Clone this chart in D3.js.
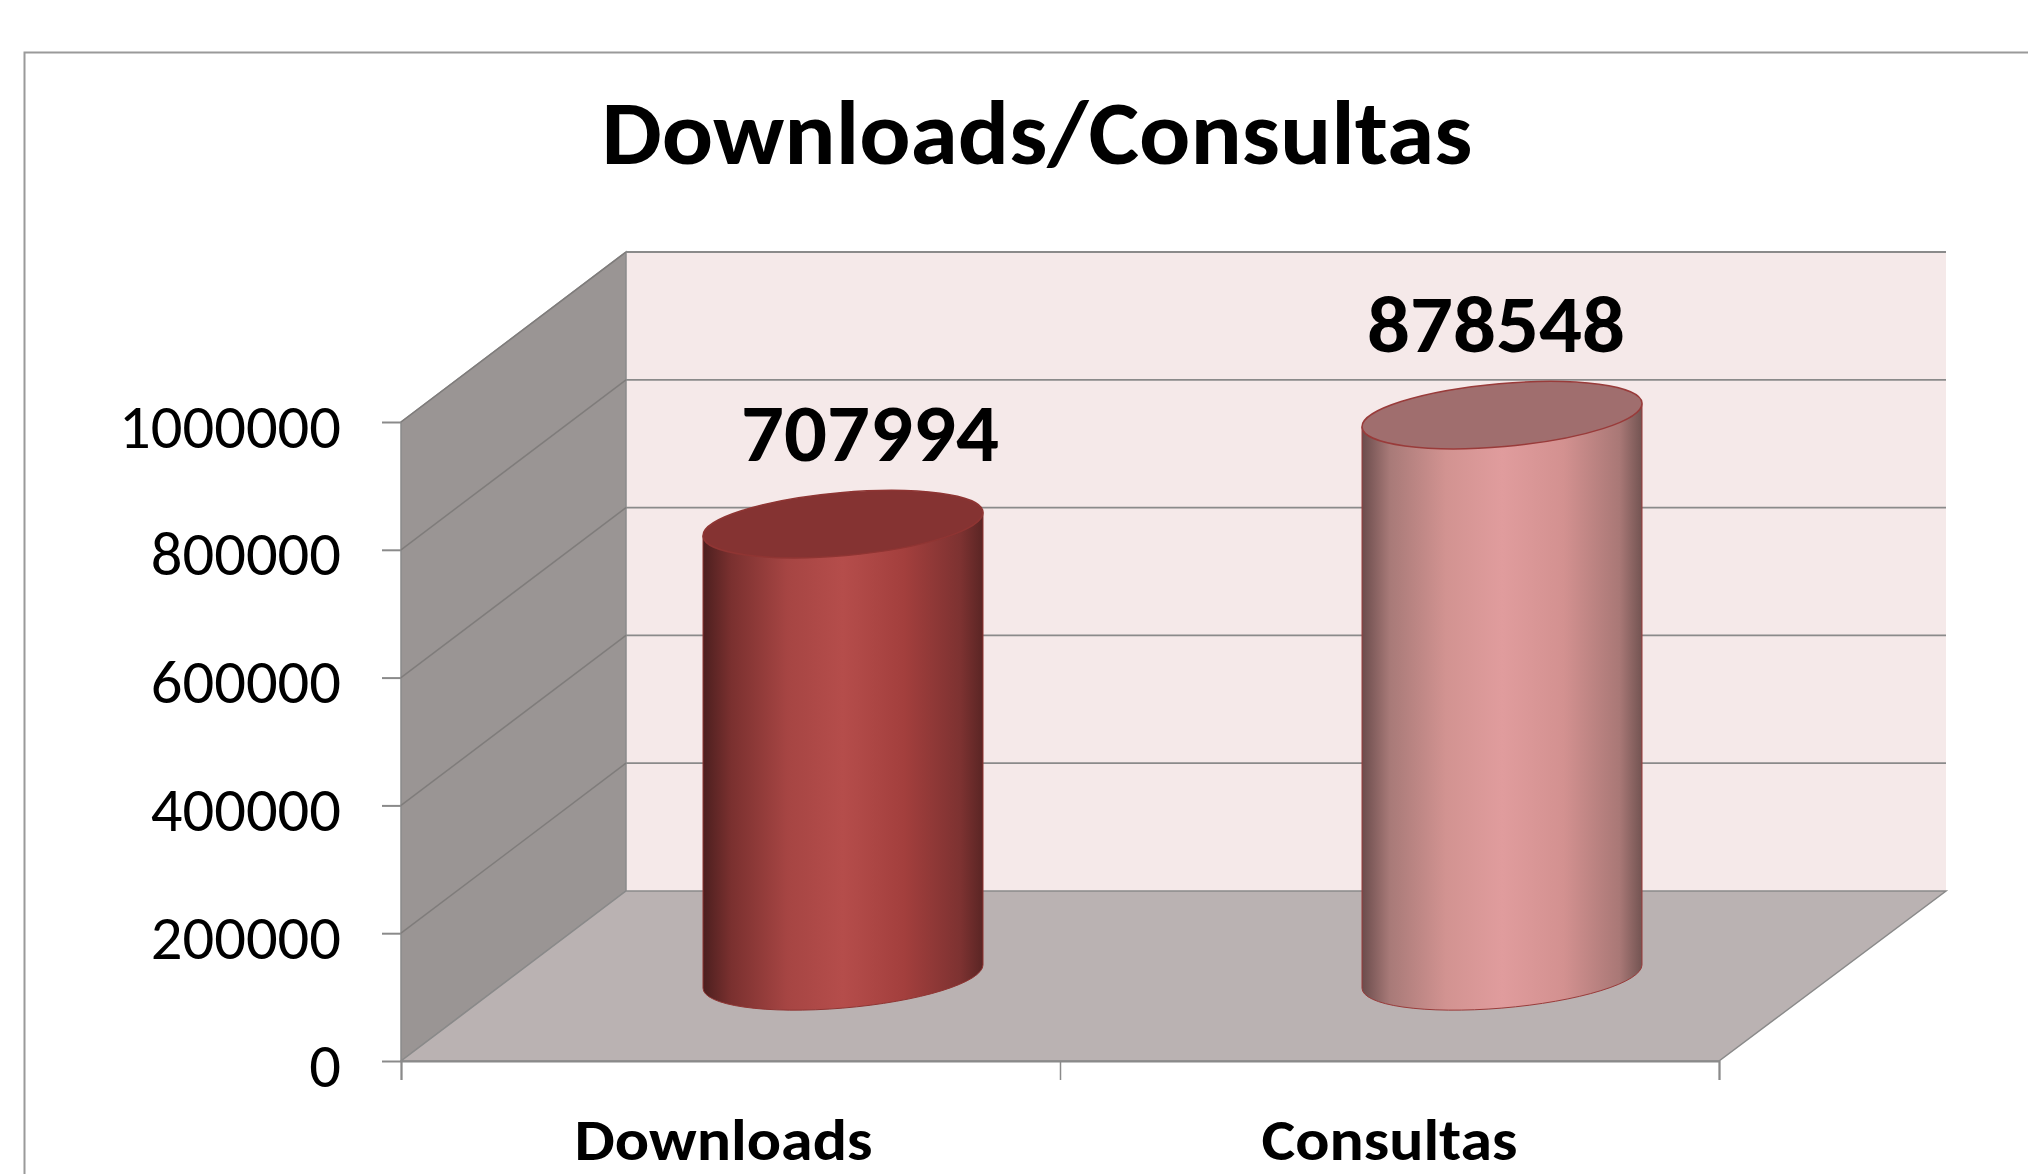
<!DOCTYPE html>
<html>
<head>
<meta charset="utf-8">
<script src="https://cdn.jsdelivr.net/npm/d3@7"></script>
<style>
  html, body { margin: 0; padding: 0; background: #fff; overflow: hidden; }
  text { font-family: Carlito, Calibri, Lato, sans-serif; fill: #000; }
</style>
</head>
<body>
<div id="chart"></div>
<script>
var chartTitle = "Downloads/Consultas";
var categories = ["Downloads", "Consultas"];
var values = [707994, 878548];
var yTicks = [0, 200000, 400000, 600000, 800000, 1000000];
var topColors = ["#853332", "#a06e6e"];
var rimColors = ["#8f3533", "#993b3a"];
var sideStops = [
  ["#4c1f1f", "#7a302f", "#a64543", "#b54d4b", "#a33f3d", "#7d3231", "#5a2524"],
  ["#6b4c4c", "#a87a78", "#d29391", "#e09c9d", "#d39190", "#a97876", "#735452"]
];
var offsets = [0, 0.1, 0.3, 0.5, 0.72, 0.92, 1];

function init(){
  var w = 2028, h = 1174;

  var svg = d3.select("#chart").append("svg")
    .attr("width", w)
    .attr("height", h);

  // outer frame, its right and bottom edges run off the page
  svg.append("rect")
    .attr("x", 24.5).attr("y", 52.5)
    .attr("width", w).attr("height", h)
    .attr("fill", "#fff").attr("stroke", "#9a9a9a").attr("stroke-width", 2);

  svg.append("text")
    .attr("x", 1037).attr("y", 164)
    .attr("text-anchor", "middle")
    .attr("font-size", 92).attr("font-weight", 700)
    .attr("textLength", 871).attr("lengthAdjust", "spacingAndGlyphs")
    .text(chartTitle);

  // front plane of the 3d box
  var left = 401, right = 1719, bottom = 1061, top = 422;
  // how far the back plane sits from the front one
  var depthX = 225, depthY = -170;

  var y = d3.scaleLinear().domain([0, 1000000]).range([bottom, top]);
  var x = d3.scaleBand().domain(categories).range([left, right]);
  var xEdge = d3.scaleLinear().domain([0, 2]).range([left, right]);

  var line = "#8a8a8a";
  var pts = function(a){ return a.map(function(p){ return p.join(","); }).join(" "); };

  // back wall
  svg.append("polygon")
    .attr("points", pts([[left+depthX, y(1000000)+depthY], [right+depthX+2, y(1000000)+depthY],
                         [right+depthX+2, bottom+depthY], [left+depthX, bottom+depthY]]))
    .attr("fill", "#f5e9e9");

  // side wall
  svg.append("polygon")
    .attr("points", pts([[left, y(1000000)], [left+depthX, y(1000000)+depthY],
                         [left+depthX, bottom+depthY], [left, bottom]]))
    .attr("fill", "#9a9594").attr("stroke", line).attr("stroke-width", 1.5);

  // floor
  svg.append("polygon")
    .attr("points", pts([[left, bottom], [left+depthX, bottom+depthY],
                         [right+depthX+2, bottom+depthY], [right, bottom]]))
    .attr("fill", "#bab2b2").attr("stroke", line).attr("stroke-width", 1.5);

  // gridlines, on the side wall then across the back
  var grid = svg.append("g").attr("fill", "none");
  grid.selectAll(".side").data(yTicks.slice(1)).enter().append("line")
    .attr("x1", left).attr("y1", function(d){ return y(d); })
    .attr("x2", left+depthX).attr("y2", function(d){ return y(d)+depthY; })
    .attr("stroke", "#7f7c7b").attr("stroke-width", 1.5);
  grid.selectAll(".back").data(yTicks.slice(1)).enter().append("line")
    .attr("x1", left+depthX).attr("y1", function(d){ return y(d)+depthY; })
    .attr("x2", right+depthX+2).attr("y2", function(d){ return y(d)+depthY; })
    .attr("stroke", line).attr("stroke-width", 1.8);

  // axes
  var yAxis = svg.append("g")
    .attr("transform", "translate(" + left + ",0)")
    .call(d3.axisLeft(y).tickValues(yTicks).tickSize(19).tickPadding(41).tickFormat(d3.format("d")));
  yAxis.select(".domain").remove();
  yAxis.selectAll("line").attr("stroke", line).attr("stroke-width", 2);
  yAxis.selectAll("text").attr("font-size", 61).attr("font-family", null)
    .attr("dy", "0.41em")
    .attr("textLength", function(d){ return String(d).length * 31.7; })
    .attr("lengthAdjust", "spacingAndGlyphs");

  var xTicks = svg.append("g")
    .attr("transform", "translate(0," + bottom + ")")
    .call(d3.axisBottom(xEdge).tickValues([0, 1, 2]).tickSize(19).tickFormat(""));
  xTicks.select(".domain").attr("stroke", line).attr("stroke-width", 2);
  xTicks.selectAll("line").attr("stroke", line).attr("stroke-width", 1.5);

  // category labels sit a little off their band centres in the original
  var xAxis = svg.append("g")
    .attr("transform", "translate(0," + bottom + ")")
    .call(d3.axisBottom(x).tickSize(0).tickPadding(58));
  xAxis.select(".domain").remove();
  xAxis.selectAll("text").attr("font-size", 58).attr("font-weight", 700).attr("font-family", null)
    .attr("dx", function(d){ return d == "Downloads" ? -7 : 0; })
    .attr("textLength", function(d){ return d == "Downloads" ? 298 : 256; })
    .attr("lengthAdjust", "spacingAndGlyphs");

  // gradients for the cylinder sides
  var defs = svg.append("defs");
  categories.forEach(function(c, i){
    var g = defs.append("linearGradient").attr("id", "side" + i);
    sideStops[i].forEach(function(col, j){
      g.append("stop").attr("offset", offsets[j]).attr("stop-color", col);
    });
  });

  // cylinders stand half way into the box depth
  var rx = 140.5, ry = 31.5, tilt = -5, lean = 11.6;
  var cx = function(d){ return x(d) + x.bandwidth()/2 + depthX/2; };
  var base = function(v){ return y(v) + depthY/2 + 0.5; };

  var bars = svg.append("g").selectAll("g")
    .data(categories).enter().append("g");

  bars.append("path")
    .attr("d", function(d, i){
      var c = cx(d), hw = 140, t = base(values[i]), b = base(0);
      return "M" + (c-hw) + "," + (t+lean) + "L" + (c-hw) + "," + (b+lean) +
        "A" + rx + "," + ry + "," + tilt + ",0,0," + (c+hw) + "," + (b-lean) +
        "L" + (c+hw) + "," + (t-lean) + "Z";
    })
    .attr("fill", function(d, i){ return "url(#side" + i + ")"; })
    .attr("stroke", function(d, i){ return rimColors[i]; })
    .attr("stroke-width", 1);

  bars.append("ellipse")
    .attr("rx", rx).attr("ry", ry)
    .attr("transform", function(d, i){
      return "translate(" + cx(d) + "," + base(values[i]) + ") rotate(" + tilt + ")";
    })
    .attr("fill", function(d, i){ return topColors[i]; })
    .attr("stroke", function(d, i){ return rimColors[i]; })
    .attr("stroke-width", 1.5);

  // value labels above each cylinder
  bars.append("text")
    .attr("x", function(d, i){ return cx(d) + (i == 0 ? 27 : -6); })
    .attr("y", function(d, i){ return base(values[i]) - 63; })
    .attr("text-anchor", "middle")
    .attr("font-size", 80).attr("font-weight", 700)
    .attr("textLength", 258).attr("lengthAdjust", "spacingAndGlyphs")
    .text(function(d, i){ return values[i]; });
}
window.onload = init;
</script>
</body>
</html>
